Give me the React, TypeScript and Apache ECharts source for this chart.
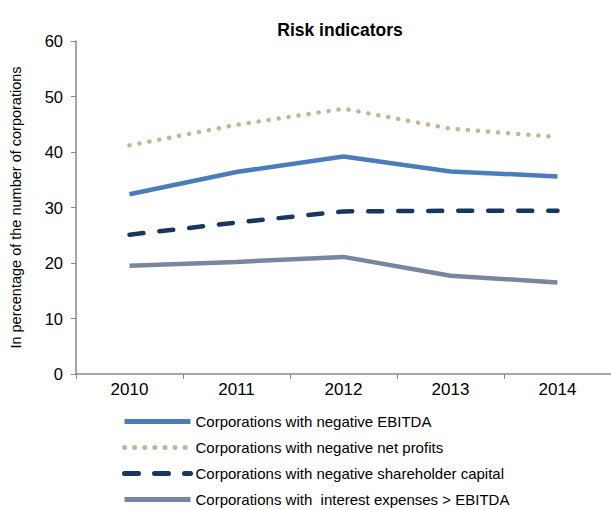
import React, { useEffect, useRef } from "react";
import * as echarts from "echarts";

const years = ["2010", "2011", "2012", "2013", "2014"];
const negEbitda = [32.4, 36.4, 39.2, 36.5, 35.6];
const negNetProfits = [41.2, 44.9, 47.8, 44.2, 42.7];
const negShareholderCapital = [25.1, 27.3, 29.3, 29.4, 29.4];
const interestOverEbitda = [19.5, 20.2, 21.1, 17.7, 16.5];
const seriesNames = [
  "Corporations with negative EBITDA",
  "Corporations with negative net profits",
  "Corporations with negative shareholder capital",
  "Corporations with  interest expenses > EBITDA",
];

export default function App() {
  const ref = useRef<HTMLDivElement>(null);
  useEffect(() => {
    if (!ref.current) return;
    const chart = echarts.init(ref.current, undefined, { renderer: "svg" });
    const font = "Liberation Sans, Arial, sans-serif";
    chart.setOption({
      animation: false,
      backgroundColor: "#ffffff",
      title: {
        text: "Risk indicators",
        left: 335,
        top: 16,
        textAlign: "center",
        textStyle: {
          fontFamily: "Liberation Sans Narrow, Arial Narrow, Liberation Sans, Arial",
          fontWeight: "bold",
          fontSize: 17.5,
          color: "#000",
        },
      },
      grid: { left: 76, right: -10, top: 41, bottom: 136, containLabel: false },
      legend: {
        orient: "vertical",
        left: 122,
        top: 414,
        height: 110,
        padding: 0,
        itemWidth: 66,
        itemHeight: 14,
        itemGap: 11,
        itemStyle: { opacity: 0 },
        lineStyle: { width: 5 },
        textStyle: { fontFamily: font, fontSize: 15, color: "#000" },
        data: seriesNames,
      },
      xAxis: {
        type: "category",
        data: years,
        boundaryGap: true,
        axisLine: { lineStyle: { color: "#888888", width: 1.5 } },
        axisTick: { show: true, length: 5, lineStyle: { color: "#888888" } },
        axisLabel: { fontFamily: font, fontSize: 17, color: "#000", margin: 7 },
      },
      yAxis: {
        type: "value",
        min: 0,
        max: 60,
        interval: 10,
        name: "In percentage of the number of corporations",
        nameLocation: "middle",
        nameGap: 53,
        nameTextStyle: { fontFamily: font, fontSize: 14.5, color: "#000" },
        axisLine: { show: true, lineStyle: { color: "#888888", width: 1.5 } },
        axisTick: { show: true, length: 5, lineStyle: { color: "#888888" } },
        axisLabel: { fontFamily: font, fontSize: 16.5, color: "#000", margin: 13 },
        splitLine: { show: false },
      },
      series: [
        {
          name: seriesNames[0],
          type: "line",
          data: negEbitda,
          symbol: "none",
          lineStyle: { color: "#4a7ebb", width: 4.5 },
          itemStyle: { color: "#4a7ebb" },
        },
        {
          name: seriesNames[1],
          type: "line",
          data: negNetProfits,
          symbol: "none",
          lineStyle: { color: "#c4b596", width: 4.5, type: [0.1, 10], cap: "round" },
          itemStyle: { color: "#c4b596" },
        },
        {
          name: seriesNames[2],
          type: "line",
          data: negShareholderCapital,
          symbol: "none",
          lineStyle: { color: "#17375e", width: 4.5, type: [14, 16], cap: "round" },
          itemStyle: { color: "#17375e" },
        },
        {
          name: seriesNames[3],
          type: "line",
          data: interestOverEbitda,
          symbol: "none",
          lineStyle: { color: "#7886a0", width: 4.5 },
          itemStyle: { color: "#7886a0" },
        },
      ],
    });
    return () => chart.dispose();
  }, []);
  return (
    <div
      ref={ref}
      style={{ position: "absolute", left: 0, top: 0, width: 611, height: 510 }}
    />
  );
}
